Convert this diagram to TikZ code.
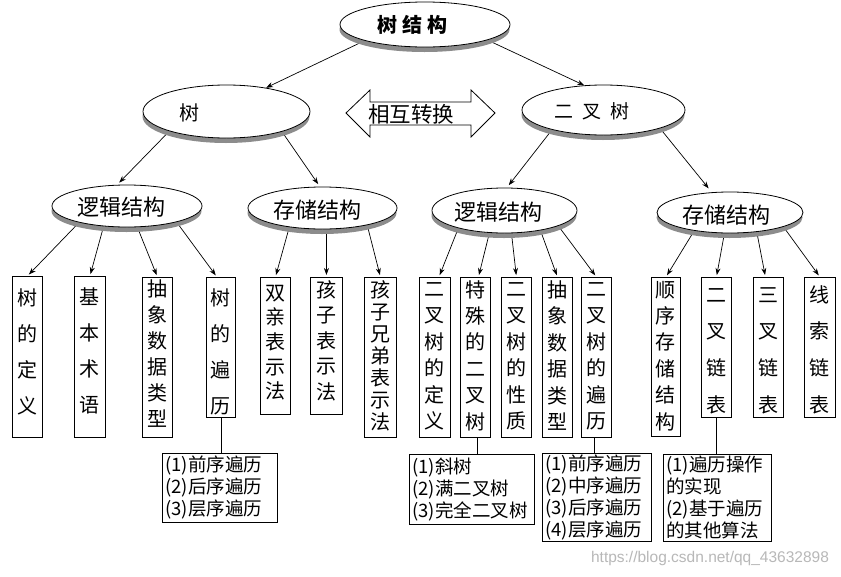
\documentclass[tikz,border=0pt]{standalone}
\usepackage{fontspec}
\newfontfamily\cjk{Noto Sans CJK SC}
\newfontfamily\wmfont{Liberation Sans}
\usetikzlibrary{shapes.geometric,shadows,arrows.meta,backgrounds}
\newcommand\vbx[8]{%
  \node[vb, minimum width=#4, minimum height=#5, anchor=north west] (#1) at (#2,#3) {};
  \node[vt, font=\cjk\fontsize{20}{#6}\selectfont, anchor=north] (#1t) at ([yshift=-#7pt]#1.north) {\vphantom{树}#8};}
\begin{document}
\begin{tikzpicture}[x=1pt,y=-1pt,
  ell/.style={ellipse, draw, fill=white, line width=0.8pt, inner sep=0pt,
    drop shadow={shadow xshift=-0.5pt, shadow yshift=-5pt, fill=black!45, opacity=1}},
  lab/.style={inner sep=0pt},
  vb/.style={draw, line width=0.9pt, inner sep=0pt},
  vt/.style={inner sep=0pt, align=center},
  tb/.style={draw, line width=0.9pt, anchor=north west, inner xsep=3pt, inner ysep=0pt,
    align=left, font=\cjk\fontsize{18.5}{22}\selectfont},
  arr/.style={-{Stealth[length=7pt,width=5pt]}, line width=0.7pt},
  ln/.style={line width=0.8pt}]
\useasboundingbox (0,0) rectangle (841,576);

% ellipses
\node[ell, minimum width=170, minimum height=45] (root) at (425,24.5) {};
\node[ell, minimum width=167, minimum height=53] (shu) at (226.5,111.5) {};
\node[ell, minimum width=163, minimum height=50] (bt) at (603.5,110) {};
\node[ell, minimum width=150, minimum height=42] (lgL) at (127,206) {};
\node[ell, minimum width=149, minimum height=42] (ccL) at (322.5,208) {};
\node[ell, minimum width=145, minimum height=45] (lgR) at (504.5,210.5) {};
\node[ell, minimum width=146, minimum height=41] (ccR) at (730,212.5) {};

\node[lab, font=\cjk\bfseries\fontsize{20}{24}\selectfont] (troot) at (412,25) {树\hspace{5pt}结\hspace{5pt}构};
\node[lab, font=\cjk\fontsize{20}{24}\selectfont] (tshu) at (189,112.5) {树};
\node[lab, font=\cjk\fontsize{19}{24}\selectfont] (tbt) at (592,111) {二\hspace{9pt}叉\hspace{9pt}树};
\node[lab, font=\cjk\fontsize{22}{26}\selectfont] (tlgL) at (121.5,207) {逻辑结构};
\node[lab, font=\cjk\fontsize{22}{26}\selectfont] (tccL) at (317.5,210) {存储结构};
\node[lab, font=\cjk\fontsize{22}{26}\selectfont] (tlgR) at (498.5,212) {逻辑结构};
\node[lab, font=\cjk\fontsize{22}{26}\selectfont] (tccR) at (726,215) {存储结构};

% double arrow
\draw[line width=0.8pt] (346,113) -- (370,90) -- (370,102) -- (471,102) -- (471,90) -- (495,113)
  -- (471,137) -- (471,125) -- (370,125) -- (370,137) -- cycle;
\node[lab, font=\cjk\fontsize{21.5}{26}\selectfont] (conv) at (411,114) {相互转换};

% vertical boxes
\vbx{b1}{12}{276}{30}{161}{36.3}{12}{树\\的\\定\\义}
\vbx{b2}{74}{276}{31}{161}{36.3}{11}{基\\本\\术\\语}
\vbx{b3}{142}{277}{30}{160}{26}{2}{抽\\象\\数\\据\\类\\型}
\vbx{b4}{206}{277}{29}{140}{36.3}{11}{树\\的\\遍\\历}
\vbx{b5}{260}{277}{30}{137}{24.7}{6}{双\\亲\\表\\示\\法}
\vbx{b6}{310}{277}{32}{137}{25.5}{3}{孩\\子\\表\\示\\法}
\vbx{b7}{364}{277}{32}{160}{22}{3}{孩\\子\\兄\\弟\\表\\示\\法}
\vbx{b8}{419}{277}{31}{160}{26.5}{2}{二\\叉\\树\\的\\定\\义}
\vbx{b9}{460}{277}{30}{160}{26.4}{3}{特\\殊\\的\\二\\叉\\树}
\vbx{b10}{501}{277}{30}{160}{26.5}{2}{二\\叉\\树\\的\\性\\质}
\vbx{b11}{542}{277}{30}{160}{26.5}{3}{抽\\象\\数\\据\\类\\型}
\vbx{b12}{581}{277}{30}{160}{26.5}{2}{二\\叉\\树\\的\\遍\\历}
\vbx{b13}{651}{277}{29}{159}{26.4}{3}{顺\\序\\存\\储\\结\\构}
\vbx{b14}{701}{277}{30}{140}{36.7}{8}{二\\叉\\链\\表}
\vbx{b15}{753}{277}{30}{140}{36.7}{8}{三\\叉\\链\\表}
\vbx{b16}{804}{277}{31}{140}{36.7}{8}{线\\索\\链\\表}

% bottom boxes
\node[tb, text width=109pt, minimum height=69pt] (bA) at (162,453) {(1)前序遍历\\(2)后序遍历\\(3)层序遍历};
\node[tb, text width=119pt, minimum height=70pt] (bB) at (409,454) {(1)斜树\\(2)满二叉树\\(3)完全二叉树};
\node[tb, text width=103pt, minimum height=88pt] (bC) at (542,453) {(1)前序遍历\\(2)中序遍历\\(3)后序遍历\\(4)层序遍历};
\node[tb, text width=102pt, minimum height=87pt] (bD) at (663,454) {(1)遍历操作\\的实现\\(2)基于遍历\\的其他算法};

\draw[ln] (b4.south) -- (b4.south |- bA.north);
\draw[ln] ([xshift=2pt]b9.south) -- ([xshift=2pt]b9.south |- bB.north);
\draw[ln] ([xshift=-2pt]b12.south) -- ([xshift=-2pt]b12.south |- bC.north);
\draw[ln] (b14.south) -- (b14.south |- bD.north);

% watermark
\node[lab, font=\wmfont\fontsize{15.5}{18}\selectfont, text=black!28] (wm) at (710,558) {https://blog.csdn.net/qq\_43632898};

\begin{pgfonlayer}{background}
\fill[white] (0,0) rectangle (841,576);
\draw[arr] (root.195) -- (shu.31);
\draw[arr] (root.346) -- (bt.128);
\draw[arr, shorten >=3pt] (shu.199) -- (lgL.115);
\draw[arr, shorten >=3pt] (shu.340) -- (ccL.97);
\draw[arr, shorten >=3pt] (bt.201) -- (lgR.84);
\draw[arr, shorten >=5pt] (bt.342) -- (ccR.132);
\draw[arr, shorten >=2pt] (lgL.199) -- (b1.north);
\draw[arr, shorten >=2pt] (lgL.221) -- (b2.north);
\draw[arr, shorten >=2pt] (lgL.296) -- (b3.north);
\draw[arr, shorten >=2pt] (lgL.342) -- ([xshift=-4pt]b4.north);
\draw[arr, shorten >=2pt] (ccL.210) -- (b5.north);
\draw[arr, shorten >=2pt] (ccL.south -| b6.north) -- (b6.north);
\draw[arr, shorten >=2pt] (ccL.339) -- (b7.north);
\draw[arr, shorten >=2pt] (lgR.201) -- ([xshift=4pt]b8.north);
\draw[arr, shorten >=2pt] (lgR.236) -- ([xshift=3pt]b9.north);
\draw[arr, shorten >=2pt] (lgR.287) -- (b10.north);
\draw[arr, shorten >=2pt] (lgR.331) -- (b11.north);
\draw[arr, shorten >=2pt] (lgR.344) -- (b12.north);
\draw[arr, shorten >=2pt] (ccR.207) -- (b13.north);
\draw[arr, shorten >=2pt] (ccR.255) -- (b14.north);
\draw[arr, shorten >=2pt] (ccR.324) -- ([xshift=-3pt]b15.north);
\draw[arr, shorten >=2pt] (ccR.345) -- (b16.north);
\end{pgfonlayer}
\end{tikzpicture}
\end{document}
